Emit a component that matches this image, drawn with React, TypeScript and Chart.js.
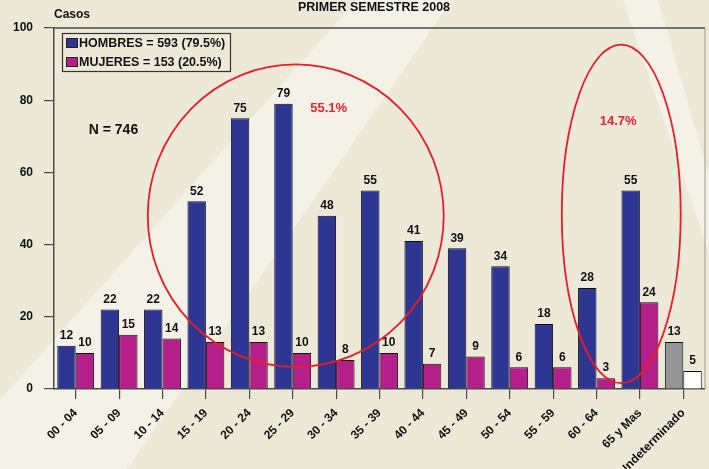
import React, { useEffect, useRef } from "react";
import { Chart, registerables } from "chart.js";

Chart.register(...registerables);

const categories = [
  "00 - 04", "05 - 09", "10 - 14", "15 - 19", "20 - 24", "25 - 29", "30 - 34",
  "35 - 39", "40 - 44", "45 - 49", "50 - 54", "55 - 59", "60 - 64", "65 y Mas", "Indeterminado",
];
const hombres = [12, 22, 22, 52, 75, 79, 48, 55, 41, 39, 34, 18, 28, 55, 13];
const mujeres = [10, 15, 14, 13, 13, 10, 8, 10, 7, 9, 6, 6, 3, 24, 5];
const yTicks = [0, 20, 40, 60, 80, 100];

const seriesLabels = ["HOMBRES = 593 (79.5%)", "MUJERES = 153 (20.5%)"];
const title = "PRIMER SEMESTRE 2008";
const yTitle = "Casos";

// annotations in data coordinates (category index, value)
const ellipses = [
  { cx: 5.07, cy: 48, rx: 3.41, ry: 41.9 },
  { cx: 12.57, cy: 48.5, rx: 1.37, ry: 46.9 },
];
const notes = [
  { text: "55.1%", x: 5.83, y: 77.7, color: "#E8232C", size: 13 },
  { text: "14.7%", x: 12.5, y: 74.1, color: "#E8232C", size: 13 },
  { text: "N = 746", x: 0.87, y: 71.6, color: "#111111", size: 14 },
];

const BLUE = "#2E3593";
const MAGENTA = "#B41F8A";
const GREY = "#959595";
const WHITE = "#FFFFFF";
const FONT = "'Liberation Sans', Arial, sans-serif";
const AXIS = "#4a4a4a";

const bgPlugin = {
  id: "bg",
  beforeDraw(chart: any) {
    const { ctx, width, height } = chart;
    ctx.save();
    ctx.fillStyle = "#ECE9D9";
    ctx.fillRect(0, 0, width, height);
    ctx.fillStyle = "#F4F2E8";
    ctx.beginPath();
    ctx.moveTo(0, 400);
    ctx.lineTo(357, 0);
    ctx.lineTo(452, 0);
    ctx.lineTo(127, height);
    ctx.lineTo(0, height);
    ctx.closePath();
    ctx.fill();
    ctx.beginPath();
    ctx.moveTo(623, 0);
    ctx.lineTo(658, 0);
    ctx.lineTo(width, 176);
    ctx.lineTo(width, 253);
    ctx.closePath();
    ctx.fill();
    ctx.restore();
  },
};

const overlayPlugin = {
  id: "overlay",
  afterDatasetsDraw(chart: any) {
    const { ctx, chartArea } = chart;
    const xs = chart.scales.x;
    const ys = chart.scales.y;
    ctx.save();
    // frame top & right
    ctx.strokeStyle = AXIS;
    ctx.lineWidth = 1.5;
    ctx.beginPath();
    ctx.moveTo(chartArea.left, chartArea.top);
    ctx.lineTo(chartArea.right, chartArea.top);
    ctx.stroke();
    ctx.strokeStyle = "#9a9a90";
    ctx.lineWidth = 1;
    ctx.beginPath();
    ctx.moveTo(chartArea.right, chartArea.top);
    ctx.lineTo(chartArea.right, chartArea.bottom);
    ctx.stroke();

    // value labels
    ctx.fillStyle = "#111";
    ctx.font = `bold 12px ${FONT}`;
    ctx.textAlign = "center";
    ctx.textBaseline = "bottom";
    chart.data.datasets.forEach((ds: any, di: number) => {
      const meta = chart.getDatasetMeta(di);
      meta.data.forEach((bar: any, i: number) => {
        ctx.fillText(String(ds.data[i]), bar.x, bar.y - 4);
      });
    });

    // ellipses
    ctx.strokeStyle = "#EC1C24";
    ctx.lineWidth = 1.8;
    ellipses.forEach((e) => {
      const cx = xs.getPixelForValue(e.cx);
      const cy = ys.getPixelForValue(e.cy);
      const rx = xs.getPixelForValue(e.cx + e.rx) - cx;
      const ry = cy - ys.getPixelForValue(e.cy + e.ry);
      ctx.beginPath();
      ctx.ellipse(cx, cy, rx, ry, 0, 0, Math.PI * 2);
      ctx.stroke();
    });

    // notes
    ctx.textBaseline = "middle";
    notes.forEach((n) => {
      ctx.fillStyle = n.color;
      ctx.font = `bold ${n.size}px ${FONT}`;
      ctx.fillText(n.text, xs.getPixelForValue(n.x), ys.getPixelForValue(n.y));
    });

    // legend
    const lx = 62, ly = 33, lw = 168, lh = 38;
    ctx.strokeStyle = "#333";
    ctx.lineWidth = 1.2;
    ctx.strokeRect(lx + 0.5, ly + 0.5, lw, lh);
    chart.data.datasets.forEach((ds: any, di: number) => {
      const cy = ly + 10 + di * 19;
      ctx.fillStyle = Array.isArray(ds.backgroundColor) ? ds.backgroundColor[0] : ds.backgroundColor;
      ctx.fillRect(lx + 4, cy - 5, 12, 10);
      ctx.strokeStyle = "#222";
      ctx.lineWidth = 1;
      ctx.strokeRect(lx + 4.5, cy - 4.5, 11, 9);
      ctx.fillStyle = "#111";
      ctx.font = `bold 12.5px ${FONT}`;
      ctx.textAlign = "left";
      ctx.textBaseline = "middle";
      ctx.fillText(ds.label, lx + 17, cy + 0.5);
    });

    // titles
    ctx.fillStyle = "#111";
    ctx.font = `bold 12.5px ${FONT}`;
    ctx.textAlign = "center";
    ctx.textBaseline = "middle";
    ctx.fillText(title, 374, 8);
    ctx.font = `bold 12px ${FONT}`;
    ctx.textAlign = "left";
    ctx.fillText(yTitle, chartArea.left, 15);
    ctx.restore();
  },
};

export default function App() {
  const ref = useRef<HTMLCanvasElement>(null);
  useEffect(() => {
    if (!ref.current) return;
    const chart = new Chart(ref.current, {
      type: "bar",
      data: {
        labels: categories,
        datasets: [
          {
            label: seriesLabels[0],
            data: hombres,
            backgroundColor: hombres.map((_, i) => (i === hombres.length - 1 ? GREY : BLUE)),
            borderColor: "#111",
            borderWidth: 1,
            categoryPercentage: 0.85,
            barPercentage: 1,
          },
          {
            label: seriesLabels[1],
            data: mujeres,
            backgroundColor: mujeres.map((_, i) => (i === mujeres.length - 1 ? WHITE : MAGENTA)),
            borderColor: "#111",
            borderWidth: 1,
            categoryPercentage: 0.85,
            barPercentage: 1,
          },
        ],
      },
      options: {
        responsive: false,
        animation: false,
        layout: { padding: { top: 28, right: 4, left: 0, bottom: 0 } },
        plugins: { legend: { display: false }, tooltip: { enabled: false }, title: { display: false } },
        scales: {
          x: {
            offset: true,
            grid: { offset: false, drawOnChartArea: false, drawTicks: true, tickLength: 10, color: AXIS, lineWidth: 1.2 },
            border: { display: true, color: AXIS, width: 1.5 },
            ticks: {
              autoSkip: false,
              maxRotation: 45,
              minRotation: 45,
              color: "#111",
              font: { family: FONT, weight: "bold", size: 12 },
              padding: 7,
            },
            afterFit(scale: any) {
              scale.height = 80;
            },
          },
          y: {
            min: 0,
            max: 100,
            afterBuildTicks(scale: any) {
              scale.ticks = yTicks.map((v) => ({ value: v }));
            },
            grid: { drawOnChartArea: false, drawTicks: true, tickLength: 10, color: AXIS, lineWidth: 1.2 },
            border: { display: true, color: AXIS, width: 1.5 },
            ticks: {
              color: "#111",
              font: { family: FONT, weight: "bold", size: 12 },
              padding: 11,
            },
            afterFit(scale: any) {
              scale.width = 54;
            },
          },
        },
      },
      plugins: [bgPlugin, overlayPlugin],
    } as any);
    return () => chart.destroy();
  }, []);
  return (
    <div style={{ position: "absolute", left: 0, top: 0, width: 709, height: 469 }}>
      <canvas ref={ref} width={709} height={469} style={{ display: "block" }} />
    </div>
  );
}
